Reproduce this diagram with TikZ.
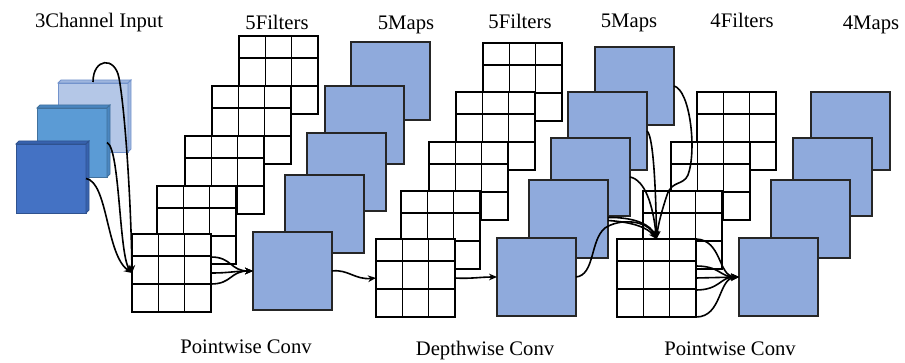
\documentclass[tikz,border=0pt]{standalone}
\usepackage{fontspec}
\setmainfont{Liberation Serif}
\usetikzlibrary{calc,arrows.meta}
\definecolor{mapblue}{HTML}{8FAADC}
\definecolor{inAface}{HTML}{B4C7E7}
\definecolor{inAside}{HTML}{9EB5DE}
\definecolor{inAline}{HTML}{7393CC}
\definecolor{inBface}{HTML}{5B9BD5}
\definecolor{inBside}{HTML}{4A86C0}
\definecolor{inBline}{HTML}{41719C}
\definecolor{inCface}{HTML}{4472C4}
\definecolor{inCside}{HTML}{3762AE}
\definecolor{inCline}{HTML}{2F528F}
\begin{document}
\begin{tikzpicture}[x=0.75pt,y=-0.75pt,
  filt/.style={draw=black, fill=white, line width=1.15pt,
    minimum width=59.25pt, minimum height=58.5pt,
    inner sep=0pt, outer sep=0pt, anchor=north west,
    path picture={
      \foreach \f in {0.3333,0.6667}{
        \draw[line width=1.15pt] ($(path picture bounding box.north west)!\f!(path picture bounding box.north east)$) -- ($(path picture bounding box.south west)!\f!(path picture bounding box.south east)$);}
      \foreach \f in {0.282,0.641}{
        \draw[line width=1.15pt] ($(path picture bounding box.north west)!\f!(path picture bounding box.south west)$) -- ($(path picture bounding box.north east)!\f!(path picture bounding box.south east)$);}
    }},
  fmap/.style={draw=black!85, fill=mapblue, line width=1pt,
    minimum width=59.25pt, minimum height=58.5pt,
    inner sep=0pt, outer sep=0pt, anchor=north west},
  inface/.style={minimum width=52.5pt, minimum height=51.75pt,
    inner sep=0pt, outer sep=0pt, anchor=north west, line width=0.6pt},
  lbl/.style={anchor=base, inner sep=0pt, font=\fontsize{15.5pt}{18pt}\selectfont},
  conn/.style={line width=1.2pt, -{Stealth[length=6pt,width=5pt]}}
]
\path[use as bounding box] (0,0) rectangle (905,363);

% ---------- input channels (3D squares) ----------
\foreach \nm/\xx/\yy/\fc/\sc/\lc in {in1/58/83/inAface/inAside/inAline,
                                     in2/37/108/inBface/inBside/inBline,
                                     in3/16/144/inCface/inCside/inCline}{
  \node[inface, fill=\fc, draw=\lc] (\nm) at (\xx,\yy) {};
  \filldraw[fill=\sc, draw=\lc, line width=0.6pt]
    (\nm.north west) -- ++(3,-3) -- ($(\nm.north east)+(3,-3)$) -- (\nm.north east) -- cycle;
  \filldraw[fill=\sc, draw=\lc, line width=0.6pt]
    (\nm.north east) -- ++(3,-3) -- ($(\nm.south east)+(3,-3)$) -- (\nm.south east) -- cycle;
}

% ---------- first pointwise filters ----------
\node[filt] (fa5) at (239,36) {};
\node[filt] (fa4) at (212,86) {};
\node[filt] (fa3) at (185,136) {};
\node[filt] (fa2) at (157,186) {};
\node[filt] (fa1) at (132,234) {};

% ---------- first maps ----------
\node[fmap] (ma5) at (351,42) {};
\node[fmap] (ma4) at (325,86) {};
\node[fmap] (ma3) at (307,133) {};
\node[fmap] (ma2) at (285,175) {};
\node[fmap] (ma1) at (253,232) {};

% ---------- depthwise filters ----------
\node[filt] (fb5) at (483,43) {};
\node[filt] (fb4) at (456,92) {};
\node[filt] (fb3) at (429,142) {};
\node[filt] (fb2) at (401,191) {};
\node[filt] (fb1) at (376,239) {};

% ---------- second maps ----------
\node[fmap] (mb5) at (595,47) {};
\node[fmap] (mb4) at (568,92) {};
\node[fmap] (mb3) at (551,138) {};
\node[fmap] (mb2) at (529,180) {};
\node[fmap] (mb1) at (497,238) {};

% ---------- second pointwise filters ----------
\node[filt] (fc4) at (697,92) {};
\node[filt] (fc3) at (671,142) {};
\node[filt] (fc2) at (643,191) {};
\node[filt] (fc1) at (617,239) {};

% ---------- output maps ----------
\node[fmap] (mc4) at (811,92) {};
\node[fmap] (mc3) at (793,138) {};
\node[fmap] (mc2) at (771,180) {};
\node[fmap] (mc1) at (739,238) {};

% ---------- labels ----------
\node[lbl] (t1) at (99,28) {3Channel Input};
\node[lbl] (t2) at (277,30) {5Filters};
\node[lbl] (t3) at (406,30) {5Maps};
\node[lbl] (t4) at (520,29) {5Filters};
\node[lbl] (t5) at (629,28) {5Maps};
\node[lbl] (t6) at (742,28) {4Filters};
\node[lbl] (t7) at (871,30) {4Maps};
\node[lbl] (b1) at (246,353) {Pointwise Conv};
\node[lbl] (b2) at (485,355) {Depthwise Conv};
\node[lbl] (b3) at (730,355) {Pointwise Conv};

% ---------- connectors: input -> first filters ----------
\draw[conn] ($(in1.north)+(0,-1)$) .. controls (93,58) and (115,56) .. (119,78)
  .. controls (125,110) and (131,200) .. (fa1.west);
\draw[conn] (in2.east) .. controls (120,148) and (119,255) .. (fa1.west);
\draw[conn] (in3.east) .. controls (108,182) and (106,255) .. (fa1.west);

% ---------- first filters -> first map ----------
\draw[conn] ($(fa1.north east)+(0,23)$) .. controls (232,257) and (230,271) .. (ma1.west);
\draw[conn] (fa1.east) .. controls (230,273) and (235,271) .. (ma1.west);
\draw[conn] ($(fa1.north east)+(0,50)$) .. controls (232,284) and (230,271) .. (ma1.west);

% ---------- map -> depthwise -> map ----------
\draw[conn] (ma1.east) .. controls (348,269) and (355,280) .. (fb1.west);
\draw[conn] (fb1.east) .. controls (470,279) and (480,277) .. (mb1.west);

% ---------- second maps -> second pointwise filters ----------
\draw[conn] (mb5.east) .. controls (690,90) and (697,150) .. (688,175)
  .. controls (683,186) and (672,180) .. (667,195)
  .. controls (662,210) and (658,225) .. (fc1.north);
\draw[conn] (mb4.east) .. controls (654,136) and (656,200) .. (fc1.north);
\draw[conn] (mb3.east) .. controls (645,180) and (653,205) .. (fc1.north);
\draw[conn] ($(mb2.east)+(0,-1.5)$) .. controls (635,217) and (651,225) .. (fc1.north);
\draw[conn] ($(mb2.east)+(0,1.5)$) .. controls (633,222) and (648,228) .. (fc1.north);
\draw[conn] (mb1.east) .. controls (595,275) and (590,240) .. (605,228)
  .. controls (620,218) and (647,220) .. (fc1.north);

% ---------- second pointwise filters -> output map ----------
\draw[conn] (fc1.north east) .. controls (722,240) and (718,276) .. (mc1.west);
\draw[conn] ($(fc1.north east)+(0,27)$) .. controls (720,266) and (720,277) .. (mc1.west);
\draw[conn] (fc1.east) -- (mc1.west);
\draw[conn] ($(fc1.north east)+(0,51)$) .. controls (720,290) and (720,277) .. (mc1.west);
\draw[conn] (fc1.south east) .. controls (722,317) and (718,279) .. (mc1.west);
\end{tikzpicture}
\end{document}
